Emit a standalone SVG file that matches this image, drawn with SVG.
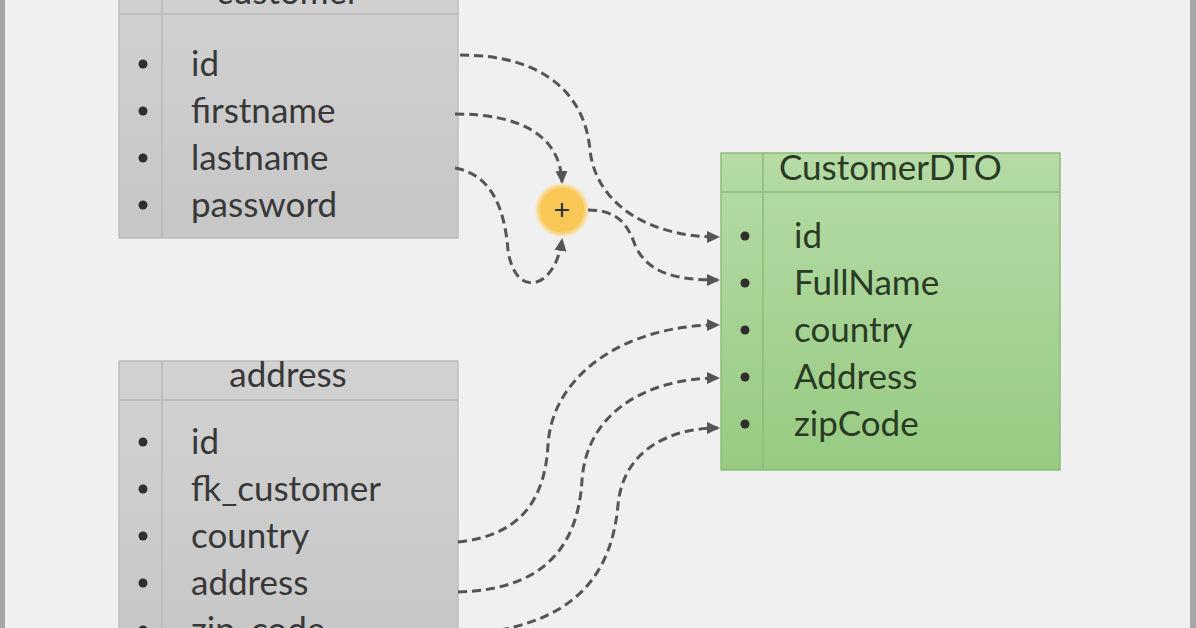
<svg xmlns="http://www.w3.org/2000/svg" width="1196" height="628" viewBox="0 0 1196 628">
<style>
.tbl{fill:url(#gray);stroke:#bdbdbd;stroke-width:1.5}
.dto{fill:url(#green);stroke:#8dbd78;stroke-width:1.5}
.gl{stroke:#b8b8b8;stroke-width:1.5}
.gg{stroke:#8dbd78;stroke-width:1.5}
.t{font-family:Lato,"Open Sans",sans-serif;font-size:35px;fill:#383838}
.tg{font-family:Lato,"Open Sans",sans-serif;font-size:35px;fill:#2a3a24}
.b{fill:#2e2e2e}
.c{fill:none;stroke:#555;stroke-width:3;stroke-dasharray:9 5}
</style>
<defs>
<linearGradient id="gray" x1="0" y1="0" x2="0" y2="1"><stop offset="0" stop-color="#d2d2d2"/><stop offset="1" stop-color="#c6c6c6"/></linearGradient>
<linearGradient id="green" x1="0" y1="0" x2="0" y2="1"><stop offset="0" stop-color="#b6dba6"/><stop offset="1" stop-color="#97cb82"/></linearGradient>
<radialGradient id="halo"><stop offset="0.72" stop-color="#f9c756"/><stop offset="0.86" stop-color="#fbd88a"/><stop offset="1" stop-color="#fbe3b0" stop-opacity="0"/></radialGradient>
<marker id="ah" markerWidth="14" markerHeight="14" refX="11" refY="7" orient="auto" markerUnits="userSpaceOnUse"><path d="M0,1 L13,7 L0,13 Z" fill="#555"/></marker>
</defs>
<rect x="0" y="0" width="1196" height="628" fill="#f0f0f0"/>
<rect x="0" y="0" width="5" height="628" fill="#a6a6a6"/>
<rect x="1190" y="0" width="6" height="628" fill="#a6a6a6"/>

<g id="customer">
<rect class="tbl" x="119" y="-30" width="339" height="268"/>
<line class="gl" x1="119" y1="14" x2="458" y2="14"/>
<line class="gl" x1="162" y1="-30" x2="162" y2="238"/>
<text class="t" x="288" y="4" text-anchor="middle">customer</text>
<circle class="b" cx="143" cy="64" r="4.5"/><text class="t" x="191" y="76">id</text>
<circle class="b" cx="143" cy="111" r="4.5"/><text class="t" x="191" y="123">firstname</text>
<circle class="b" cx="143" cy="158" r="4.5"/><text class="t" x="191" y="170">lastname</text>
<circle class="b" cx="143" cy="205" r="4.5"/><text class="t" x="191" y="217">password</text>
</g>

<g id="address">
<rect class="tbl" x="119" y="361" width="339" height="300"/>
<line class="gl" x1="119" y1="400" x2="458" y2="400"/>
<line class="gl" x1="162" y1="361" x2="162" y2="628"/>
<text class="t" x="288" y="387" text-anchor="middle">address</text>
<circle class="b" cx="143" cy="442" r="4.5"/><text class="t" x="191" y="454">id</text>
<circle class="b" cx="143" cy="489" r="4.5"/><text class="t" x="191" y="501">fk_customer</text>
<circle class="b" cx="143" cy="536" r="4.5"/><text class="t" x="191" y="548">country</text>
<circle class="b" cx="143" cy="583" r="4.5"/><text class="t" x="191" y="595">address</text>
<circle class="b" cx="143" cy="630" r="4.5"/><text class="t" x="191" y="642">zip_code</text>
</g>

<g id="customerdto">
<rect class="dto" x="721" y="153" width="339" height="317"/>
<line class="gg" x1="721" y1="192" x2="1060" y2="192"/>
<line class="gg" x1="763" y1="153" x2="763" y2="470"/>
<text class="tg" x="779" y="180">CustomerDTO</text>
<circle class="b" cx="745" cy="236" r="4.5"/><text class="tg" x="794" y="248">id</text>
<circle class="b" cx="745" cy="283" r="4.5"/><text class="tg" x="794" y="295">FullName</text>
<circle class="b" cx="745" cy="330" r="4.5"/><text class="tg" x="794" y="342">country</text>
<circle class="b" cx="745" cy="377" r="4.5"/><text class="tg" x="794" y="389">Address</text>
<circle class="b" cx="745" cy="424" r="4.5"/><text class="tg" x="794" y="436">zipCode</text>
</g>

<g id="plus">
<circle cx="562" cy="210" r="28" fill="url(#halo)"/>
<circle cx="562" cy="210" r="22" fill="#f9c756"/>
<path d="M555,210 H569 M562,203 V217" stroke="#333" stroke-width="2.2"/>
</g>

<g id="connectors">
<path class="c" marker-end="url(#ah)" d="M460,55 C545,55 585,95 590,150 C596,205 650,237 718,237"/>
<path class="c" marker-end="url(#ah)" d="M455,114 C520,114 560,135 562,182"/>
<path class="c" marker-end="url(#ah)" d="M455,168 C495,175 505,215 508,250 C515,300 555,290 562,240"/>
<path class="c" marker-end="url(#ah)" d="M588,210 C618,210 628,225 635,245 C648,275 680,280 718,280"/>
<path class="c" marker-end="url(#ah)" d="M458,542 C525,535 545,495 548,445 C552,375 625,325 718,325"/>
<path class="c" marker-end="url(#ah)" d="M458,592 C540,590 578,550 582,480 C587,410 650,378 718,378"/>
<path class="c" marker-end="url(#ah)" d="M500,630 C580,615 612,570 618,505 C623,450 670,428 718,428"/>
</g>
</svg>
